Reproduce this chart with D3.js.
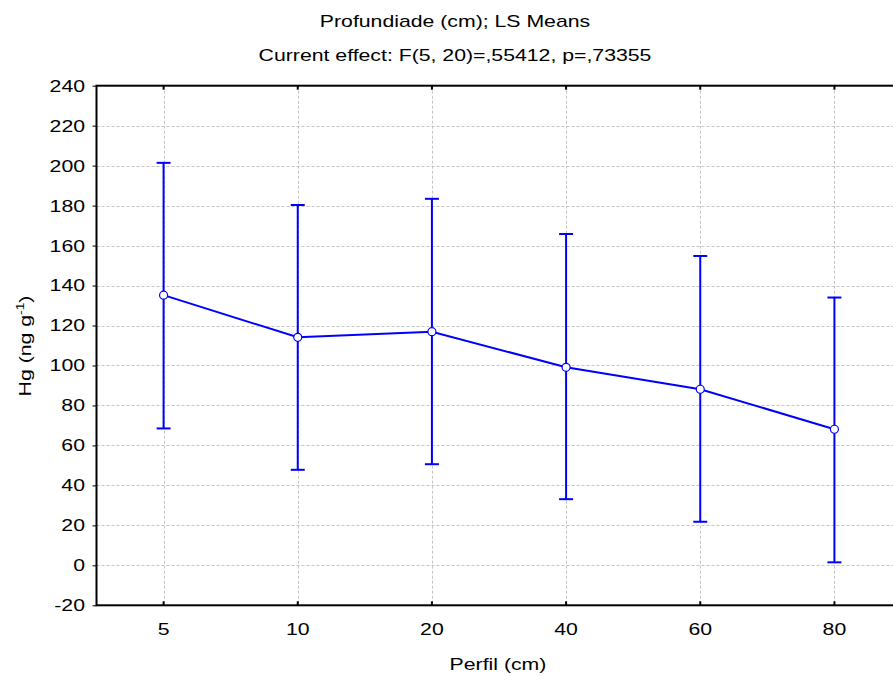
<!DOCTYPE html>
<html>
<head>
<meta charset="utf-8">
<script src="https://cdn.jsdelivr.net/npm/d3@7/dist/d3.min.js"></script>
<style>
  html, body { margin: 0; padding: 0; background: #fff; }
  svg { display: block; font-family: "Liberation Sans", Arial, sans-serif; }
</style>
</head>
<body>
<svg id="chart" width="893" height="676"></svg>
<script>
// Depth categories (cm) and LS means of Hg with confidence limits
const categories = ["5", "10", "20", "40", "60", "80"];
const means = [135.2, 114.1, 116.9, 99.1, 88.1, 68.1];
const lower = [68.5, 47.8, 50.6, 33.1, 21.8, 1.5];
const upper = [201.4, 180.3, 183.4, 165.8, 154.8, 134.0];
const yTicks = [-20, 0, 20, 40, 60, 80, 100, 120, 140, 160, 180, 200, 220, 240];

const titleLines = ["Profundiade (cm); LS Means", "Current effect: F(5, 20)=,55412, p=,73355"];
const xLabel = "Perfil (cm)";

const data = categories.map((c, i) => ({ cat: c, mean: means[i], lo: lower[i], hi: upper[i] }));

const svg = d3.select("#chart");
const margin = { left: 96.5, top: 85.7, right: 901.5, bottom: 605.3 };
const FS = 17;      // font size
const SX = 1.25;    // horizontal stretch of the text face

const x = d3.scaleBand().domain(categories).range([margin.left, margin.right]).padding(0);
const y = d3.scaleLinear().domain([-20, 240]).range([margin.bottom, margin.top]);
const cx = d => x(d) + x.bandwidth() / 2;

const blue = "#0000ff";

// Grid
const grid = svg.append("g").attr("stroke", "#c4c4c4").attr("stroke-width", 1)
  .attr("stroke-dasharray", "3,2").attr("fill", "none");
grid.selectAll("line.h").data(yTicks.filter(t => t > -20 && t < 240)).join("line")
  .attr("class", "h")
  .attr("x1", margin.left).attr("x2", margin.right)
  .attr("y1", d => Math.round(y(d)) + 0.5).attr("y2", d => Math.round(y(d)) + 0.5);
grid.selectAll("line.v").data(categories).join("line")
  .attr("class", "v")
  .attr("x1", d => Math.round(cx(d)) + 0.5).attr("x2", d => Math.round(cx(d)) + 0.5)
  .attr("y1", margin.top).attr("y2", margin.bottom);

// Frame
svg.append("rect")
  .attr("x", margin.left).attr("y", margin.top)
  .attr("width", margin.right - margin.left).attr("height", margin.bottom - margin.top)
  .attr("stroke", "#000").attr("stroke-width", 2).attr("fill", "none");

// Y axis
const yAxis = d3.axisLeft(y).tickValues(yTicks).tickSize(4).tickPadding(5.2)
  .tickFormat(d => String(d));
const gy = svg.append("g").attr("transform", `translate(${margin.left},0)`).call(yAxis);
gy.select(".domain").remove();
gy.selectAll(".tick line").attr("stroke", "#000").attr("stroke-width", 1);
gy.selectAll(".tick text").attr("font-size", FS).attr("fill", "#000")
  .attr("font-family", "Liberation Sans, Arial, sans-serif")
  .attr("transform", `scale(${SX},1)`);

// X axis (ticks pointing inward on bottom and top)
const xAxis = d3.axisBottom(x).tickSize(-4).tickPadding(18);
const gx = svg.append("g").attr("transform", `translate(0,${margin.bottom})`).call(xAxis);
gx.select(".domain").remove();
gx.selectAll(".tick line").attr("stroke", "#000").attr("stroke-width", 2);
gx.selectAll(".tick text").attr("font-size", FS).attr("fill", "#000")
  .attr("font-family", "Liberation Sans, Arial, sans-serif")
  .attr("transform", `scale(${SX},1)`);
const gxTop = svg.append("g").attr("transform", `translate(0,${margin.top})`)
  .call(d3.axisTop(x).tickSize(-4).tickFormat(""));
gxTop.select(".domain").remove();
gxTop.selectAll(".tick line").attr("stroke", "#000").attr("stroke-width", 2);

// Error bars
const eb = svg.append("g").attr("stroke", blue).attr("stroke-width", 2).attr("fill", "none");
eb.selectAll("line.bar").data(data).join("line").attr("class", "bar")
  .attr("x1", d => cx(d.cat)).attr("x2", d => cx(d.cat))
  .attr("y1", d => y(d.lo)).attr("y2", d => y(d.hi));
eb.selectAll("line.capHi").data(data).join("line").attr("class", "capHi")
  .attr("x1", d => cx(d.cat) - 7).attr("x2", d => cx(d.cat) + 7)
  .attr("y1", d => y(d.hi)).attr("y2", d => y(d.hi));
eb.selectAll("line.capLo").data(data).join("line").attr("class", "capLo")
  .attr("x1", d => cx(d.cat) - 7).attr("x2", d => cx(d.cat) + 7)
  .attr("y1", d => y(d.lo)).attr("y2", d => y(d.lo));

// Mean line
svg.append("path").datum(data)
  .attr("fill", "none").attr("stroke", blue).attr("stroke-width", 2)
  .attr("d", d3.line().x(d => cx(d.cat)).y(d => y(d.mean)));

// Mean markers
svg.append("g").selectAll("circle").data(data).join("circle")
  .attr("cx", d => cx(d.cat)).attr("cy", d => y(d.mean)).attr("r", 4)
  .attr("fill", "#fff").attr("stroke", blue).attr("stroke-width", 1.2);

// Centered, horizontally stretched text
function label(px, py, str, rot) {
  return svg.append("text")
    .attr("transform", `translate(${px},${py})${rot ? " rotate(" + rot + ")" : ""} scale(${SX},1)`)
    .attr("text-anchor", "middle").attr("font-size", FS).attr("fill", "#000").text(str);
}

// Titles
label(455, 27, titleLines[0]);
label(455, 61, titleLines[1]);

// Axis titles
label(498, 670, xLabel);

const yl = svg.append("text")
  .attr("transform", `translate(31,346) rotate(-90) scale(${SX},1)`)
  .attr("text-anchor", "middle").attr("font-size", FS).attr("fill", "#000");
yl.append("tspan").text("Hg (ng g");
yl.append("tspan").attr("dy", -7).attr("font-size", 11).text("-1");
yl.append("tspan").attr("dy", 7).text(")");
</script>
</body>
</html>
